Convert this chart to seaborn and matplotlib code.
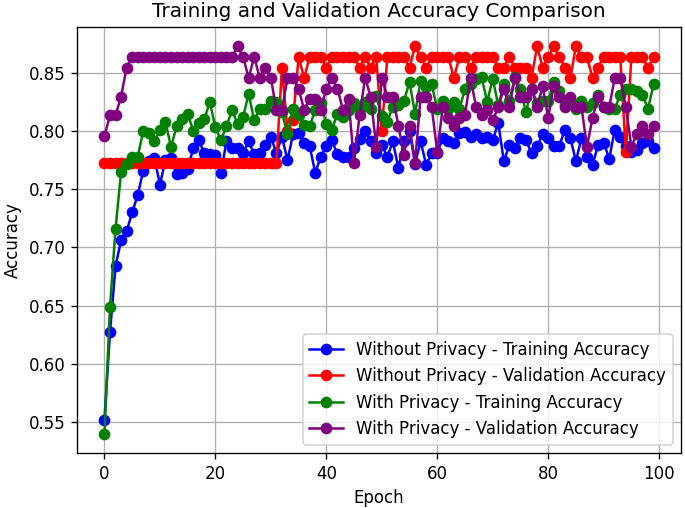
import matplotlib
matplotlib.use("Agg")
import matplotlib.pyplot as plt
import seaborn as sns
import pandas as pd

epochs = list(range(100))

# Without privacy - training accuracy (blue)
no_priv_train = [
    0.552, 0.627, 0.684, 0.706, 0.714, 0.730, 0.745, 0.766, 0.774, 0.777,
    0.754, 0.775, 0.777, 0.763, 0.764, 0.767, 0.785, 0.792, 0.781, 0.780,
    0.779, 0.764, 0.791, 0.785, 0.785, 0.781, 0.791, 0.780, 0.781, 0.788,
    0.795, 0.781, 0.795, 0.775, 0.797, 0.798, 0.790, 0.787, 0.764, 0.778,
    0.787, 0.792, 0.780, 0.778, 0.778, 0.785, 0.793, 0.800, 0.791, 0.781,
    0.788, 0.778, 0.791, 0.768, 0.791, 0.800, 0.772, 0.791, 0.771, 0.781,
    0.781, 0.794, 0.791, 0.790, 0.798, 0.799, 0.795, 0.797, 0.794, 0.795,
    0.792, 0.807, 0.774, 0.788, 0.785, 0.794, 0.792, 0.781, 0.787, 0.797,
    0.794, 0.787, 0.787, 0.801, 0.794, 0.774, 0.794, 0.778, 0.771, 0.788,
    0.790, 0.776, 0.801, 0.795, 0.787, 0.782, 0.784, 0.790, 0.791, 0.785,
]

# Without privacy - validation accuracy (red)
no_priv_val = [0.7727] * 32 + [
    0.8545, 0.8000, 0.8091, 0.8636, 0.8455, 0.8636, 0.8636, 0.8636,
    0.8545, 0.8636, 0.8636, 0.8636, 0.8636, 0.8636, 0.8545, 0.8636, 0.8545, 0.8636,
    0.8000, 0.8636, 0.8636, 0.8636, 0.8636, 0.8545, 0.8727, 0.8636, 0.8545, 0.8636,
    0.8636, 0.8636, 0.8636, 0.8455, 0.8636, 0.8636, 0.8545, 0.8636, 0.8636, 0.8636,
    0.8636, 0.8545, 0.8545, 0.8636, 0.8545, 0.8545, 0.8545, 0.8455, 0.8727, 0.8545,
    0.8636, 0.8727, 0.8636, 0.8545, 0.8455, 0.8727, 0.8636, 0.8636, 0.8455, 0.8545,
    0.8636, 0.8636, 0.8636, 0.8636, 0.7818, 0.8636, 0.8636, 0.8636, 0.8545, 0.8636,
]

# With privacy - training accuracy (green)
priv_train = [
    0.540, 0.649, 0.716, 0.765, 0.772, 0.778, 0.778, 0.800, 0.798, 0.791,
    0.801, 0.808, 0.786, 0.804, 0.810, 0.815, 0.800, 0.807, 0.810, 0.825,
    0.803, 0.792, 0.804, 0.818, 0.806, 0.812, 0.832, 0.809, 0.819, 0.819,
    0.826, 0.825, 0.816, 0.797, 0.819, 0.814, 0.805, 0.804, 0.818, 0.824,
    0.806, 0.801, 0.815, 0.812, 0.818, 0.824, 0.819, 0.825, 0.819, 0.830,
    0.813, 0.808, 0.821, 0.822, 0.826, 0.842, 0.815, 0.843, 0.838, 0.840,
    0.819, 0.826, 0.819, 0.825, 0.819, 0.836, 0.840, 0.845, 0.846, 0.825,
    0.845, 0.822, 0.840, 0.826, 0.846, 0.836, 0.816, 0.836, 0.824, 0.826,
    0.826, 0.842, 0.834, 0.822, 0.825, 0.819, 0.826, 0.821, 0.824, 0.831,
    0.821, 0.819, 0.819, 0.831, 0.836, 0.836, 0.834, 0.831, 0.819, 0.840,
]

# With privacy - validation accuracy (purple)
priv_val = [0.7955, 0.8136, 0.8136, 0.8295, 0.8545] + [0.8636] * 19 + [
    0.8727, 0.8636, 0.8455, 0.8636, 0.8455, 0.8545,
    0.8455, 0.8182, 0.8182, 0.8455, 0.8455, 0.8364, 0.8182, 0.8273, 0.8273, 0.8182,
    0.8364, 0.8455, 0.8364, 0.8182, 0.8273, 0.7727, 0.8136, 0.8455, 0.8295, 0.7864,
    0.8455, 0.8295, 0.8295, 0.8045, 0.7795, 0.8045, 0.7727, 0.8295, 0.8295, 0.8205,
    0.7818, 0.8205, 0.8114, 0.8045, 0.8114, 0.8136, 0.8455, 0.8205, 0.8136, 0.8182,
    0.8091, 0.8205, 0.8364, 0.8205, 0.8455, 0.8295, 0.8295, 0.8364, 0.8205, 0.8386,
    0.8114, 0.8386, 0.8295, 0.8205, 0.8295, 0.8205, 0.8205, 0.7864, 0.8114, 0.8295,
    0.8205, 0.8205, 0.8455, 0.8455, 0.8205, 0.7864, 0.7977, 0.8045, 0.7977, 0.8045,
]

series = [
    ("Without Privacy - Training Accuracy", no_priv_train, "blue"),
    ("Without Privacy - Validation Accuracy", no_priv_val, "red"),
    ("With Privacy - Training Accuracy", priv_train, "green"),
    ("With Privacy - Validation Accuracy", priv_val, "purple"),
]

fig, ax = plt.subplots(figsize=(685 / 120, 508 / 120), dpi=120)
fig.subplots_adjust(left=0.1124, right=0.9942, bottom=0.1083, top=0.9469)

for name, vals, col in series:
    df = pd.DataFrame({"Epoch": epochs, "Accuracy": vals})
    sns.lineplot(data=df, x="Epoch", y="Accuracy", ax=ax, color=col, label=name,
                 marker="o", markersize=6, markeredgecolor=col, markeredgewidth=1,
                 linewidth=1.5)

ax.set_title("Training and Validation Accuracy Comparison")
ax.set_xlabel("Epoch")
ax.set_ylabel("Accuracy")
ax.grid(True)
ax.legend(loc="lower right")

fig.savefig("out.png", dpi=120)
